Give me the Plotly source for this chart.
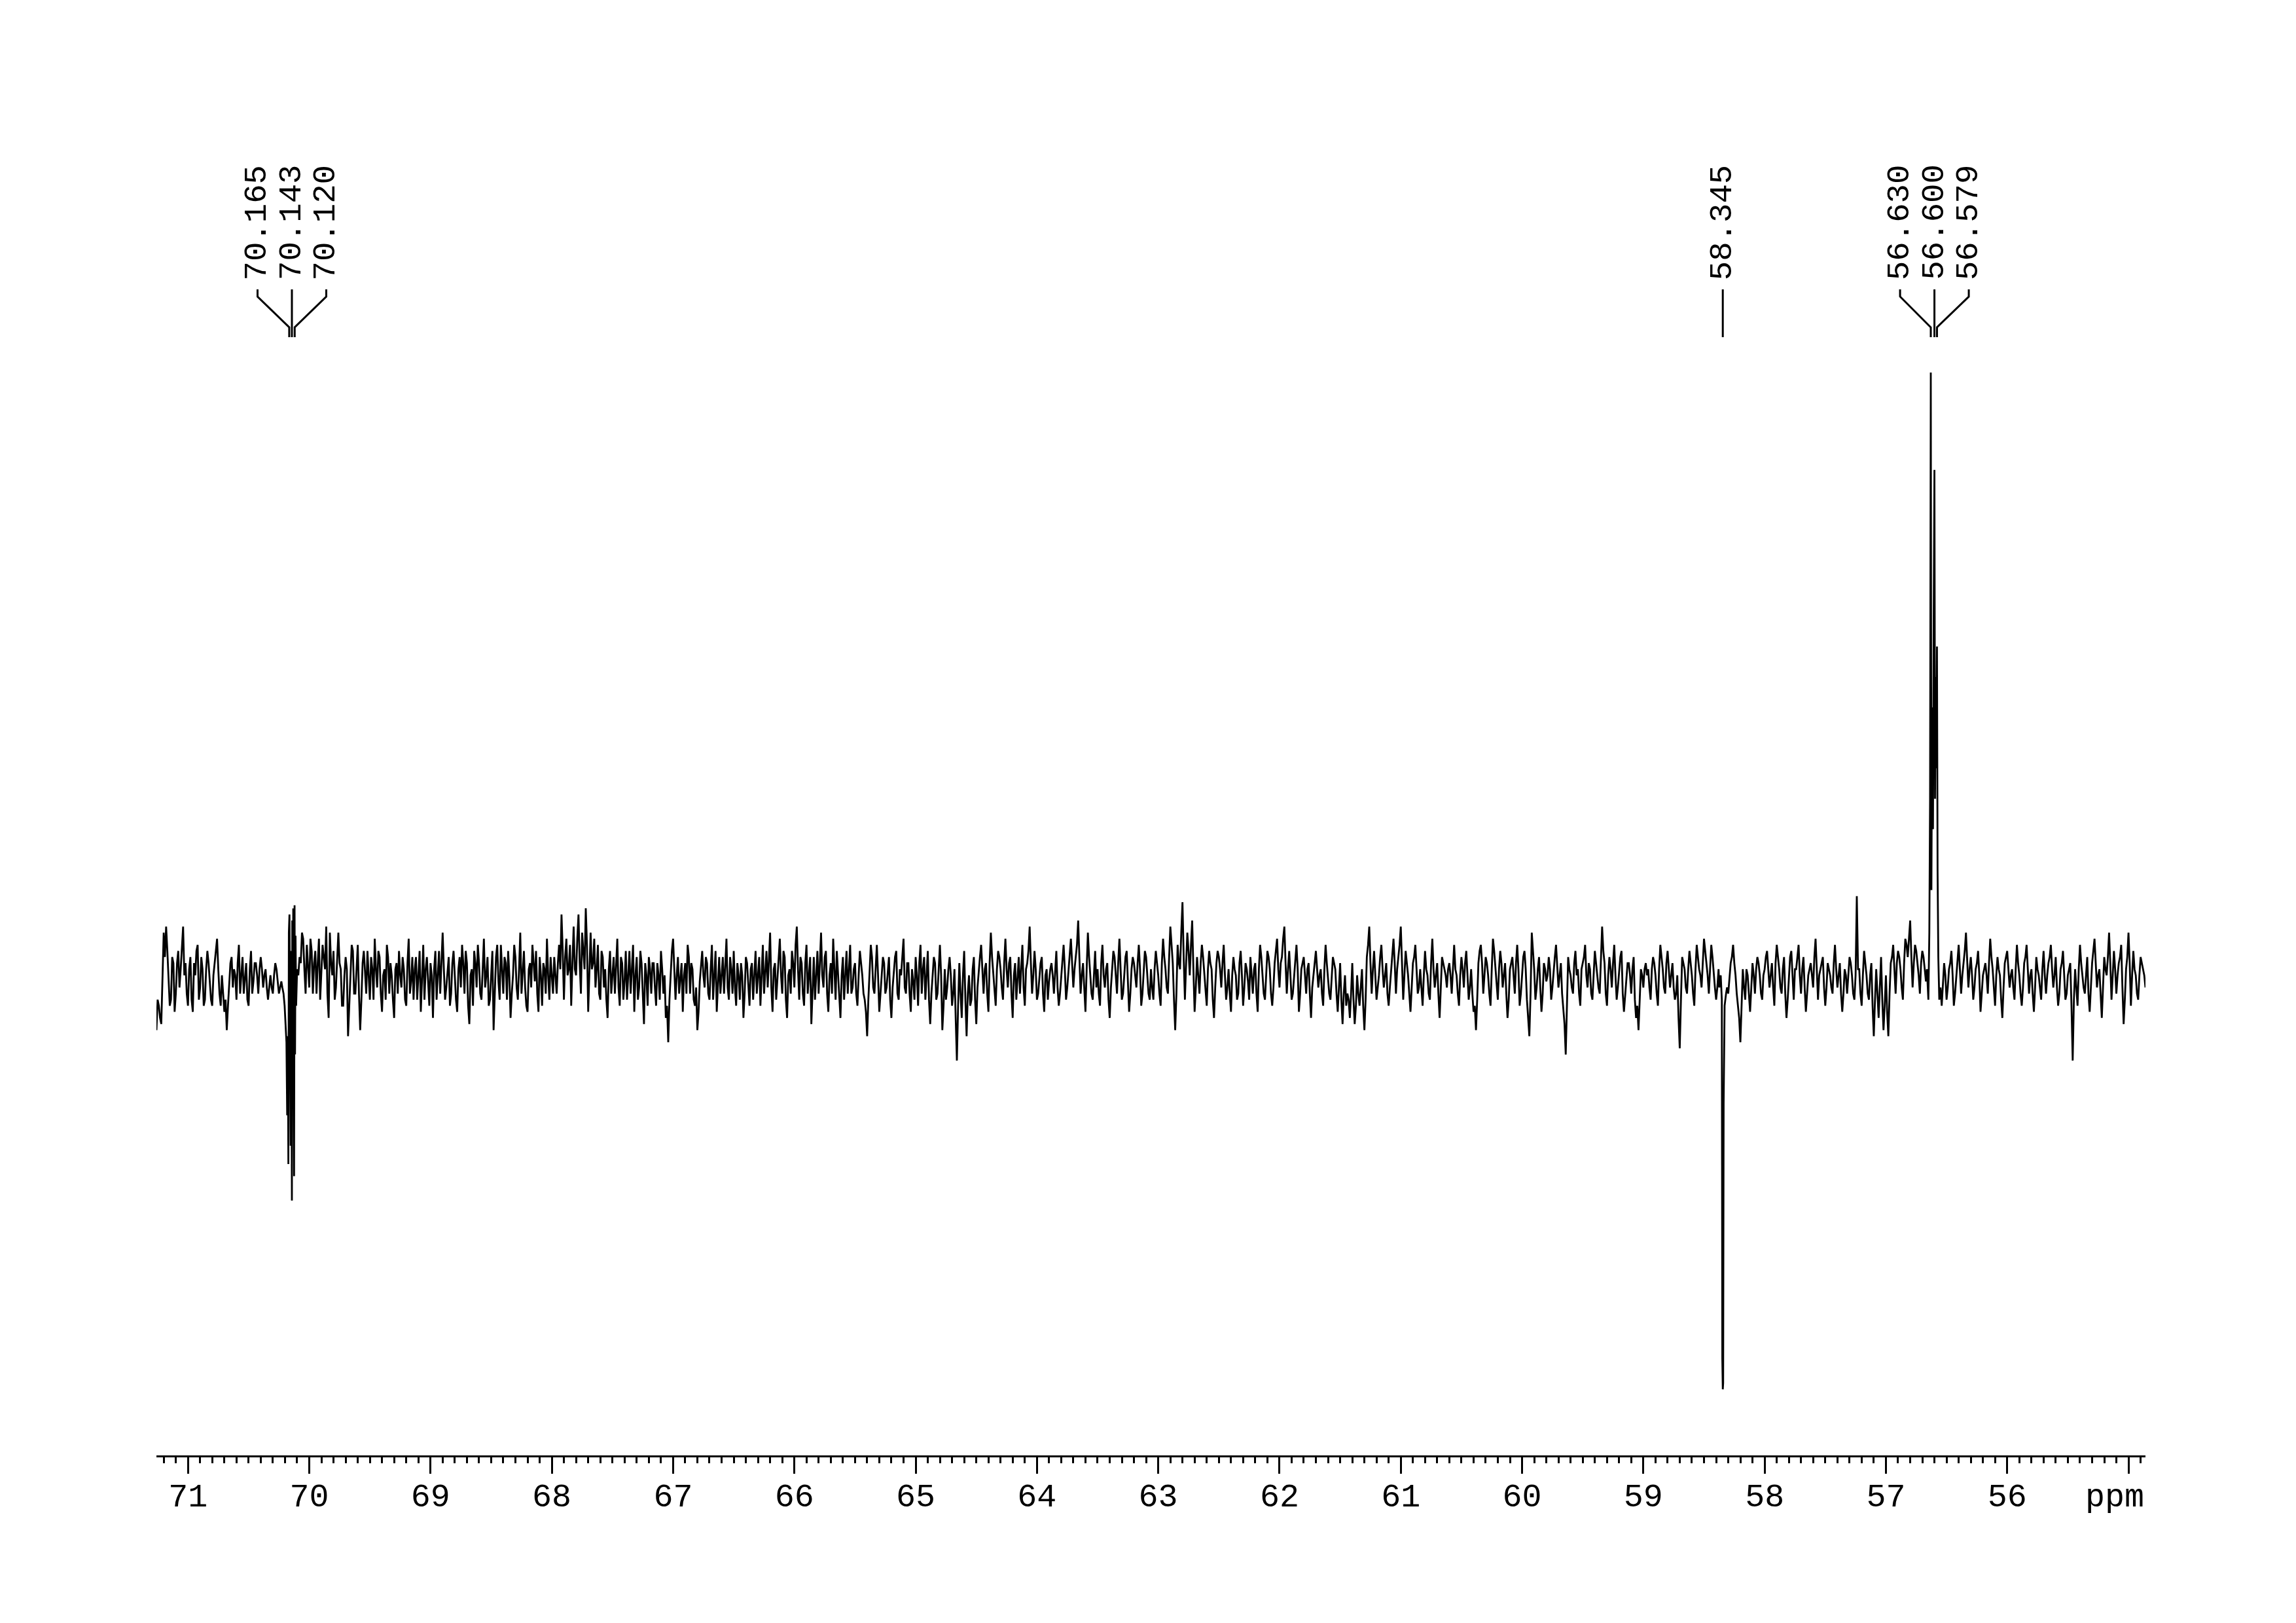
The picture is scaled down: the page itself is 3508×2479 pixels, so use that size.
import numpy as np
import plotly.graph_objects as go

# ---------------- data ----------------
PPM_START, PPM_END = 71.26, 54.86          # visible chemical-shift window

# baseline noise, relative intensity units (tallest peak = 100), evenly spaced from PPM_START to PPM_END
noise = [
    -8, -4, -7, 8, 9, 1, -3, 3, -2, 5, 2, 9, 3, -4, 4, -5, 1, 6, -1, 2,
    -3, 5, 0, -4, 3, 7, -2, 1, -5, -8, -1, 4, 2, -3, 6, 1, -2, 3, -4, 5, 0,
    3, -2, 4, -1, 2, -3, 1, -2, 3, 0, -1, 0, 0, 0, 0, 0, 0, 0, 4, 8,
    2, 6, -1, 5, 3, -2, 7, 1, 4, 9, -6, 3, 5, -1, 8, 2, -4, 4, -9, 1, 5,
    -2, 6, -8, 3, 1, 5, -3, 2, 7, -1, 4, -5, 2, 6, -2, 1, -6, 3, 5, -1,
    2, -4, 7, 0, -3, 4, 1, -5, 6, 2, -1, 3, -6, 5, 1, -2, 8, -3, 2, -4, 3,
    1, -5, 4, 6, -2, 3, -7, 2, 5, -1, 3, -3, 7, 1, -4, 2, -8, 4, 0, 6,
    -2, 3, 5, -6, 1, 4, -3, 8, 2, -1, -5, 3, 6, 0, -2, 4, -4, 2, 7, -3, 1,
    4, -2, 6, 11, -3, 7, 2, -4, 9, 1, 11, -2, 5, 12, -5, 8, 3, -1, 6, -3,
    4, 2, -6, 5, 1, -2, 7, -4, 3, 0, -3, 5, 2, -5, 4, -1, 3, -7, 1, 4, -2,
    3, -4, 1, 5, -2, -6, -10, 2, 7, -3, 4, 1, -5, 3, 6, -2, 2, -4, -8, 0,
    5, -1, 3, -3, 6, 2, -5, 4, 1, -2, 7, -3, 2, 5, -4, 1, 3, -6, 4, 0, 2,
    -3, 5, 1, -4, 6, 2, -1, 8, -5, 3, 0, 7, -2, 4, -6, 2, 5, -1, 9, -3,
    3, -4, 6, 1, -7, 4, 2, -2, 8, -1, 5, -5, 3, 7, -3, 1, -6, 4, 2, -2, 6,
    -1, 3, -4, 5, 1, -3, -9, 2, 4, -2, 6, -5, 1, 3, -1, 4, -6, 2, 5, -3,
    1, 7, -2, 3, -5, 0, 4, -4, 6, 2, -3, 5, -7, 1, 3, -2, 6, -8, 2, -1, 4,
    -4, 2, -13, 3, -6, 5, -9, 1, -3, 4, -7, 2, 6, -2, 3, -5, 8, 1, -4, 5,
    2, -3, 7, -1, 4, -6, 3, 1, -2, 6, -4, 3, 9, -2, 5, -3, 1, 4, -5, 2, 0,
    3, -2, 5, -4, 1, 6, -3, 2, 7, -1, 4, 10, -2, 3, -5, 8, 1, -3, 5, 2,
    -4, 6, -1, 3, -6, 2, 4, -2, 7, -3, 1, 5, -5, 2, 3, -1, 6, -4, 2, 4, -2,
    2, -3, 5, 1, -4, 7, 2, -2, 9, 3, -8, 6, 2, 13, -3, 8, 1, 10, -5, 4,
    -2, 6, 1, -4, 5, 2, -6, 3, 4, -1, 6, -3, 2, -5, 4, 1, -2, 5, -4, 3, 0,
    4, -2, 3, -5, 6, 1, -3, 5, 2, -4, 3, 7, -1, 4, 9, -2, 5, -3, 1, 6,
    -5, 2, 4, -2, 3, -6, 1, 5, -1, 2, -4, 6, 0, -3, 4, 2, -5, 3, -7, 1, -2,
    -6, 3, -7, 1, -4, 2, -8, 4, 9, -2, 5, -3, 1, 6, -1, 3, -4, 2, 7, -2,
    4, 9, -3, 5, 1, -5, 3, 6, -2, 2, -4, 5, 1, -3, 7, -1, 3, -6, 4, 2, -1,
    3, -2, 6, 1, -4, 4, -1, 5, -3, 2, -5, -8, 3, 6, -2, 4, 1, -4, 7, 2,
    -3, 5, -1, 3, -6, 2, 4, -2, 6, -4, 1, 5, -3, -9, 8, 2, -1, 4, -5, 3, 0,
    4, -3, 2, 6, -1, 3, -5, -12, 4, 1, -2, 5, 2, -4, 3, 6, -1, 2, -3, 5,
    1, -2, 9, 3, -4, 4, -1, 6, -3, 2, 5, -5, 1, 3, -2, 4, -6, -8, 2, -1, 3,
    2, -3, 4, 1, -4, 6, 2, -2, 5, -1, 3, -3, 1, -11, 4, 2, -2, 5, 1, -4,
    6, 2, -1, 7, 3, -2, 6, 1, -3, 2, 0, 0, 0, -2, 3, 6, 1, -4, -10, 2, -3,
    1, -5, 3, -2, 4, 1, -3, 2, 5, -1, 3, -4, 6, 2, -2, 4, -6, 1, 5, -3,
    2, 6, -2, 4, -5, 1, 3, -1, 7, -3, 2, 4, -4, 3, 1, -2, 6, -1, 3, -5, 2,
    -2, 4, 1, -3, 14, 2, -4, 5, 1, -3, 3, -9, 2, -6, 4, -8, 1, -9, 3, 6,
    -2, 5, 2, -3, 7, 4, 10, -1, 6, 3, -2, 5, 2, 0, 0, 0, 0, 0, 0, -4, 3,
    -3, 2, 5, -4, 1, 6, -2, 3, 8, -1, 4, -3, 2, 5, -5, 1, 3, -2, 7, 2,
    -4, 4, 1, -6, 3, 5, -1, 2, -3, 6, 1, -4, 3, 6, -2, 2, -5, 4, 1, -3, 5,
    -2, 3, 6, -1, 4, -4, 2, 5, -3, 1, 3, -13, 2, -4, 6, 1, -2, 4, -5, 3,
    7, -1, 2, -6, 4, 1, 8, -3, 5, -2, 3, 6, -7, 2, 8, -4, 5, 1, -3, 4, 2,
    -1,
]

# noise values half-way (in ppm) between consecutive entries of `noise`
noise_mid = [
    -3, -6, 2, 4, 5, -4, 4, -5, 3, -1, 6, 1, -2, 2, -3, 3, 5, -3, 4, -4, 2, 3, -3, 1, 5, 2, -4, -2, -3, -4, 3, -1, 1, 3, -2, 4, 1, -3, 2, -2, 3,
    1, 2, 2, 1, -1, -1, -1, 1, 2, -2, 0, 0, 0, 0, 0, 0, 0, 1, 3, 7, -2, 3, 7, -2, 5, 3, -3, 6, 2, -2, 8, 1, -3, 4, 3, -4, 1, 2, -4, 6, -2,
    3, -2, -3, 5, -2, 1, 4, -3, 2, 5, -2, 1, -3, 4, 3, -3, 2, -2, 1, 4, -3, 3, -2, 4, 2, -3, 5, 1, -3, 4, -4, 1, 2, -3, 5, 3, 2, -1, 4, -2, 5,
    -3, 2, -1, 3, 5, -4, 1, -4, 3, 6, -2, 2, -1, 4, -3, 5, -2, 6, -3, 2, 4, -3, 1, -2, 6, -1, 2, -2, 5, -4, 2, -1, 3, 5, -5, 1, 3, -2, 1, 4, -2,
    1, 3, 2, 5, 4, 1, 6, 3, 2, 7, 3, 8, 2, 6, 1, 2, 7, 2, -2, 5, -1, -3, 2, -2, 4, 3, -1, 4, -3, 5, 1, -2, 6, 1, -3, 5, -2, 3, -4, 2, 3,
    -1, 3, -3, 2, 1, -4, -3, 5, 2, 1, -2, 3, 1, -2, 4, 3, -3, -1, -5, 3, 1, 4, -2, 2, -3, 5, -1, -2, 4, 3, -1, 4, -2, -1, 3, -3, 1, -2, 3, -4, 3,
    2, -2, 4, 1, -2, 5, 3, -1, 2, -3, 4, 1, 5, -3, 1, -2, 3, 6, 2, 4, -2, 3, -2, 4, -2, -3, 5, 3, 1, 4, -2, 1, -2, 2, 5, -3, 1, -3, 5, 3, -2,
    2, -2, 1, 3, -2, -5, -3, 6, -1, 3, 1, -2, 4, -2, 2, -3, -1, 4, -2, 2, 4, -1, 3, -2, 2, -3, 1, 3, -2, 4, 1, -3, -2, 4, -3, 2, 1, -4, -3, 2, 1,
    -2, -6, -4, -2, 1, -3, -2, -4, 2, -3, -1, 4, 1, 2, -2, 3, 4, -2, 2, 4, -1, 3, 2, 3, -2, 1, -3, 4, 2, -1, 2, 5, 3, 1, 2, -2, 3, -2, 1, -3, 2,
    1, 2, -1, -2, 3, 2, -1, 4, 3, 2, 6, 4, 1, -1, 2, 4, -2, 2, -1, -2, 3, 1, 2, -3, -1, 5, 1, 3, 2, -2, 4, -1, -2, 4, 1, 3, 2, -2, 5, 1, -3,
    -1, 2, 3, -2, 3, 4, -1, 4, 6, -3, -2, 3, 8, 4, 3, 5, 6, 2, -1, 1, 3, 4, -2, 2, 3, -3, -1, 5, 2, 3, 1, -1, -2, 1, 2, -3, 3, 1, -1, 2, -3,
    1, 2, -2, 2, 4, -2, 2, 4, -2, -1, 5, 2, 3, 7, 3, 2, 1, -2, 4, 2, -2, 3, 1, 2, -2, -1, 3, 2, 1, -2, 2, 3, -2, 1, 3, -2, -1, -3, -2, -4, -3,
    -2, -3, -4, -2, -1, -4, -3, 6, 3, 2, 1, -1, 4, 2, 1, -2, -1, 4, 3, 2, 6, 2, 1, 3, -2, -1, 4, 2, -1, -1, 1, 2, -2, 3, 2, 1, -2, -1, 3, 1, 2,
    1, 3, 2, -2, 1, 2, 3, 1, -1, -2, -4, -3, 5, 3, 1, 3, -2, 2, 5, -1, 2, 3, 1, -2, -3, 3, 1, 3, 2, -2, 4, 2, -6, -2, 5, -3, 2, -1, -2, 2, 1,
    2, -1, 4, 2, 1, -2, -7, -4, 2, -1, 3, 1, -2, 2, 4, 1, 3, -2, 2, 3, -1, 4, 5, -2, 1, 2, 3, 1, -1, 4, -2, -2, 3, 1, 2, -3, -4, -3, 1, 2, 1,
    -1, 2, 3, -2, 2, 4, -1, 3, 2, 1, -1, -2, -6, -3, 3, -1, 2, 3, -2, 2, 4, 1, 3, 5, 1, 2, 4, -1, -1, 1, 0, 0, -1, 1, 4, 3, -2, -6, -4, -1, 2,
    -2, -1, 1, 2, 3, -2, 1, 4, 2, 1, -1, 3, 4, -1, 2, -2, -3, 4, 1, 2, 4, 1, 2, -1, -2, 2, 1, 4, 2, 1, 3, -1, -1, 2, -1, 3, 2, 1, -2, -2, 1,
    1, 3, -2, 1, 2, -2, 1, 3, -2, 1, -4, -3, -2, -1, -3, -4, -5, -2, 4, 2, 3, 4, -1, 3, 6, 7, 4, 3, 5, 1, 3, 4, 0, 0, 0, 0, 0, 0, -1, -1, 1,
    -1, 3, 1, -2, 3, 2, 1, 5, 3, 2, 1, -1, 3, 1, -2, 2, 1, 3, 4, -1, 1, 2, -3, -1, 4, 2, 1, -1, 2, 3, -2, -1, 4, 2, 1, -2, -1, 2, -1, 2, 1,
    1, 4, 2, 1, -1, -2, 3, 1, -2, 2, -4, -3, -1, 2, 3, -1, 1, -2, -1, 5, 3, 1, -2, -1, 2, 4, 3, 1, 2, 1, 4, -1, -3, 4, 3, 1, 2, -2, 1, 3, 1,
]

# multiplet line shapes (ppm, intensity)
m_70_ppm = [70.222, 70.212, 70.203, 70.195, 70.188, 70.182, 70.177, 70.172, 70.168, 70.163,
            70.158, 70.153, 70.149, 70.146, 70.143, 70.140, 70.136, 70.132, 70.128, 70.125,
            70.121, 70.117, 70.113, 70.108, 70.100]
m_70_val = [-1, -2, -4, -7, -10, -22, -9, -30, 8, 11,
            -20, -27, 5, -33, -36, 10, -20, 12, -25, -32,
            12.5, -12, 7.5, -4, 2]
m_58_ppm = [58.374, 58.362, 58.353, 58.349, 58.345, 58.342, 58.338, 58.330, 58.318]
m_58_val = [-1, 1, -3, -62, -67, -66, -20, -4, -2]
m_56_ppm = [56.662, 56.650, 56.642, 56.636, 56.630, 56.625, 56.619, 56.612, 56.606, 56.600,
            56.595, 56.590, 56.585, 56.579, 56.574, 56.568, 56.560]
m_56_val = [2, -3, 8, 30, 100, 15, 45, 25, 60, 84,
            30, 50, 35, 55, 18, 4, -3]

# peak-pick labels
label_groups = [
    (["70.165", "70.143", "70.120"], [70.165, 70.143, 70.120]),
    (["58.345"], [58.345]),
    (["56.630", "56.600", "56.579"], [56.630, 56.600, 56.579]),
]

tick_values = list(range(55, 72))
tick_labels = ["" if v == 55 else str(v) for v in tick_values]

# ---------------- build spectrum ----------------
grid = np.linspace(PPM_START, PPM_END, len(noise))
step = grid[1] - grid[0]
segments = [(m_70_ppm, m_70_val), (m_58_ppm, m_58_val), (m_56_ppm, m_56_val)]

def in_peak(p):
    return any(min(sp) - 0.004 <= p <= max(sp) + 0.004 for sp, _ in segments)

pts = [(p, v) for p, v in zip(grid, noise) if not in_peak(p)]
for k, v in enumerate(noise_mid[:len(noise) - 1]):
    p = grid[k] + step / 2
    if not in_peak(p):
        pts.append((p, v))
for sp, sv in segments:
    pts.extend(zip(sp, sv))
pts.sort(key=lambda t: -t[0])
xs = [p for p, _ in pts]
ys = [v for _, v in pts]

# ---------------- layout geometry (pixels) ----------------
W, H = 3508, 2479
ML, MR, MT, MB = 239, 3508 - 3278, 0, 2479 - 2223
PH = H - MT - MB
def py(ypix):                      # pixel row -> paper fraction
    return (H - MB - ypix) / PH

BASE_Y, TOP_Y = 1499, 569          # pixel rows of 0 and 100
upp = (BASE_Y - TOP_Y) / 100.0
y_lo = -(H - MB - BASE_Y) / upp
y_hi = (BASE_Y - MT) / upp

fig = go.Figure()
fig.add_trace(go.Scatter(x=xs, y=ys, mode="lines",
                         line=dict(color="black", width=2.8), hoverinfo="skip"))

px_per_ppm = (W - ML - MR) / (PPM_START - PPM_END)
LABEL_STEP = 52.5 / px_per_ppm
shapes, annotations = [], []
for texts, peaks in label_groups:
    n = len(peaks)
    center = peaks[n // 2] if n % 2 else sum(peaks) / n
    for k, (t, pk) in enumerate(zip(texts, peaks)):
        lx = center + ((n - 1) / 2 - k) * LABEL_STEP
        if n == 1:
            path = f"M {pk},{py(442)} L {pk},{py(515)}"
        else:
            path = (f"M {lx},{py(442)} L {lx},{py(453)} L {pk},{py(500)} L {pk},{py(515)}")
        shapes.append(dict(type="path", path=path, xref="x", yref="paper",
                           line=dict(color="black", width=3)))
        annotations.append(dict(x=lx, y=py(340), xref="x", yref="paper", text=t,
                                textangle=-90, showarrow=False, xanchor="center",
                                yanchor="middle",
                                font=dict(family="Liberation Mono", size=49, color="black")))

annotations.append(dict(x=PPM_END, y=py(2287), xref="x", yref="paper", text="ppm",
                        showarrow=False, xanchor="right", yanchor="middle",
                        font=dict(family="Liberation Mono", size=50, color="black")))

fig.update_layout(
    width=W, height=H, margin=dict(l=ML, r=MR, t=MT, b=MB),
    paper_bgcolor="white", plot_bgcolor="white", showlegend=False,
    shapes=shapes, annotations=annotations,
    xaxis=dict(range=[PPM_START, PPM_END], tickvals=tick_values, ticktext=tick_labels,
               ticks="outside", ticklen=25, tickwidth=3, tickcolor="black",
               ticklabelstandoff=-10,
               showline=True, linecolor="black", linewidth=3,
               showgrid=False, zeroline=False,
               tickfont=dict(family="Liberation Mono", size=50, color="black"),
               minor=dict(dtick=0.1, tick0=0, ticks="outside", ticklen=9, tickwidth=3,
                          tickcolor="black", showgrid=False)),
    yaxis=dict(range=[y_lo, y_hi], visible=False, showgrid=False, zeroline=False),
)

fig.write_html("out.html", config={"displayModeBar": False},
               post_script="document.body.style.margin='0px';")
